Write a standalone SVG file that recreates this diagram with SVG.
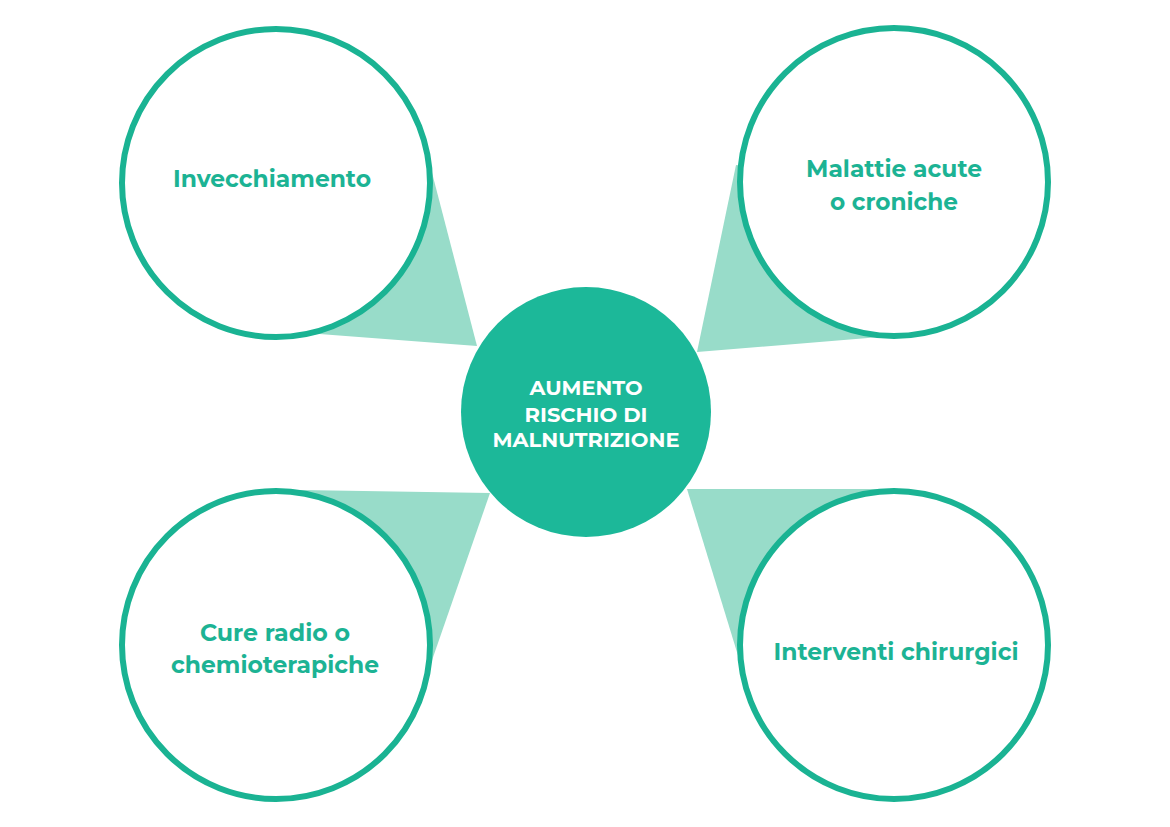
<svg xmlns="http://www.w3.org/2000/svg" width="1170" height="827" viewBox="0 0 1170 827">
  <style>
    .wedge { fill: #98dcc9; }
    .outer { fill: #ffffff; stroke: #1ab393; stroke-width: 6; }
    .lbl { fill: #1cb394; font-family: "Montserrat", "Open Sans", "Liberation Sans", sans-serif; font-weight: 700; font-size: 23px; text-anchor: middle; }
    .clbl { fill: #ffffff; font-family: "Montserrat", "Open Sans", "Liberation Sans", sans-serif; font-weight: 700; font-size: 20px; text-anchor: middle; }
  </style>
  <rect width="1170" height="827" fill="#ffffff"/>
  <g id="connectors">
    <polygon class="wedge" points="276,183 430,165 477,346 280,331"/>
    <polygon class="wedge" points="894,182 736,165 697,352 880,337"/>
    <polygon class="wedge" points="276,645 300,490 490,493 430,666"/>
    <polygon class="wedge" points="894,645 880,489 687,489 740,662"/>
  </g>
  <g id="node-center">
    <circle cx="586" cy="412" r="125" fill="#1cb899"/>
    <text class="clbl" x="586" y="395" textLength="113" lengthAdjust="spacingAndGlyphs">AUMENTO</text>
    <text class="clbl" x="586" y="422" textLength="123" lengthAdjust="spacingAndGlyphs">RISCHIO DI</text>
    <text class="clbl" x="586" y="447" textLength="187" lengthAdjust="spacingAndGlyphs">MALNUTRIZIONE</text>
  </g>
  <g id="node-invecchiamento">
    <circle class="outer" cx="276" cy="183" r="154"/>
    <text class="lbl" x="272" y="187" textLength="198" lengthAdjust="spacingAndGlyphs">Invecchiamento</text>
  </g>
  <g id="node-malattie">
    <circle class="outer" cx="894" cy="182" r="154"/>
    <text class="lbl" x="894" y="177" textLength="176" lengthAdjust="spacingAndGlyphs">Malattie acute</text>
    <text class="lbl" x="894" y="210" textLength="128" lengthAdjust="spacingAndGlyphs">o croniche</text>
  </g>
  <g id="node-cure">
    <circle class="outer" cx="276" cy="645" r="154"/>
    <text class="lbl" x="275" y="641" textLength="150" lengthAdjust="spacingAndGlyphs">Cure radio o</text>
    <text class="lbl" x="275" y="673" textLength="208" lengthAdjust="spacingAndGlyphs">chemioterapiche</text>
  </g>
  <g id="node-interventi">
    <circle class="outer" cx="894" cy="645" r="154"/>
    <text class="lbl" x="896" y="660" textLength="245" lengthAdjust="spacingAndGlyphs">Interventi chirurgici</text>
  </g>
</svg>
